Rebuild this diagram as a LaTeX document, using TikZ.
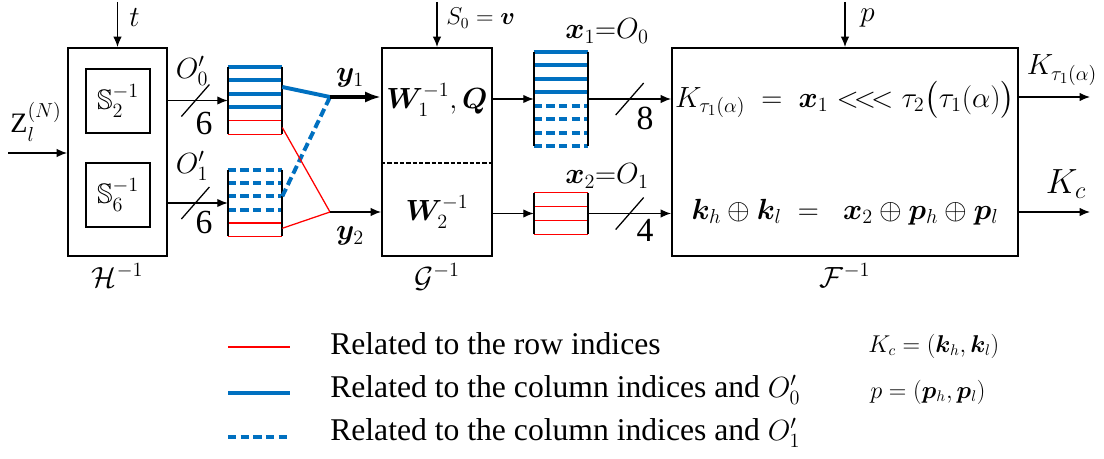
\documentclass[tikz,border=0pt]{standalone}
\usepackage{amsmath,amssymb}
\usepackage{bm}
\usepackage{fontspec}
\setmainfont{Liberation Serif}
\usetikzlibrary{arrows.meta,positioning,fit,calc}
\definecolor{rowred}{RGB}{255,0,0}
\definecolor{colblue}{RGB}{0,112,192}
\tikzset{
  blockbox/.style={draw, line width=1.3pt, inner sep=0pt},
  regbox/.style={inner sep=0pt},
  regside/.style={line width=1.3pt},
  arr/.style={-{Latex[length=2.6mm,width=2.1mm]}, line width=0.9pt},
  arrbold/.style={-{Latex[length=4mm,width=2.8mm]}, line width=2.6pt},
  rowline/.style={draw=rowred, line width=0.9pt},
  colline/.style={draw=colblue, line width=2.8pt},
  coldash/.style={colline, dash pattern=on 6pt off 3pt},
  divider/.style={line width=0.9pt, dash pattern=on 3pt off 1.5pt},
  slashmark/.style={line width=0.9pt},
  lbl/.style={font=\fontsize{20}{24}\selectfont, inner sep=0pt},
  biglbl/.style={font=\fontsize{24}{28}\selectfont, inner sep=0pt},
  eqlbl/.style={font=\fontsize{22}{26}\selectfont, inner sep=0pt},
  smalllbl/.style={font=\fontsize{16}{19}\selectfont, inner sep=0pt},
  legtxt/.style={font=\fontsize{22.5}{26}\selectfont, anchor=base west, inner sep=0pt},
}

\begin{document}
\begin{tikzpicture}[x=0.025cm, y=-0.025cm]
  \useasboundingbox (0,0) rectangle (1104,459);

  % ---- blocks ----
  \node[blockbox, fit={(68,48) (167,256)}] (H) {};
  \node[blockbox, fit={(86,69) (150,133)}] (S2) {};
  \node[blockbox, fit={(86,163) (150,227)}] (S6) {};
  \node[lbl] (S2lbl) at (S2.center) {$\mathbb{S}_2^{-1}$};
  \node[lbl] (S6lbl) at (S6.center) {$\mathbb{S}_6^{-1}$};
  \node[blockbox, fit={(382,48) (492,256)}] (G) {};
  \node[blockbox, fit={(672,48) (1018,256)}] (F) {};
  \node[lbl, below=1.6mm of H] (Hlbl) {$\mathcal{H}^{-1}$};
  \node[lbl, below=1.6mm of G] (Glbl) {$\mathcal{G}^{-1}$};
  \node[lbl, below=1.6mm of F] (Flbl) {$\mathcal{F}^{-1}$};

  \node[eqlbl] (Wq) at (437,100) {$\bm{W}_1^{-1}, \bm{Q}$};
  \node[eqlbl] (Wtwo) at (437,212) {$\bm{W}_2^{-1}$};
  \draw[divider] ($(G.north west)!0.553!(G.south west)$) -- ($(G.north east)!0.553!(G.south east)$);
  \node[eqlbl] (eqtau) at (845,100) {$K_{\tau_1(\alpha)} \;=\; \bm{x}_1 <\!<\!< \tau_2\bigl(\tau_1(\alpha)\bigr)$};
  \node[eqlbl] (eqxor) at (845,212) {$\bm{k}_h \oplus \bm{k}_l \;=\; \;\bm{x}_2 \oplus \bm{p}_h \oplus \bm{p}_l$};

  % ---- registers ----
  \node[regbox, fit={(228,67) (282,134)}] (R0) {};
  \node[regbox, fit={(228,170) (282,236)}] (R1) {};
  \node[regbox, fit={(534,52) (588,146)}] (X1) {};
  \node[regbox, fit={(534,193) (588,234)}] (X2) {};
  \foreach \k in {0,...,3}
    \draw[colline] ($(R0.north west)!\k/5!(R0.south west)$) -- ($(R0.north east)!\k/5!(R0.south east)$);
  \foreach \k in {4,5}
    \draw[rowline] ($(R0.north west)!\k/5!(R0.south west)$) -- ($(R0.north east)!\k/5!(R0.south east)$);
  \foreach \k in {0,...,3}
    \draw[coldash] ($(R1.north west)!\k/5!(R1.south west)$) -- ($(R1.north east)!\k/5!(R1.south east)$);
  \foreach \k in {4,5}
    \draw[rowline] ($(R1.north west)!\k/5!(R1.south west)$) -- ($(R1.north east)!\k/5!(R1.south east)$);
  \foreach \k in {0,...,3}
    \draw[colline] ($(X1.north west)!\k/7!(X1.south west)$) -- ($(X1.north east)!\k/7!(X1.south east)$);
  \foreach \k in {4,...,7}
    \draw[coldash] ($(X1.north west)!\k/7!(X1.south west)$) -- ($(X1.north east)!\k/7!(X1.south east)$);
  \foreach \k in {0,...,3}
    \draw[rowline] ($(X2.north west)!\k/3!(X2.south west)$) -- ($(X2.north east)!\k/3!(X2.south east)$);
  \foreach \r in {R0,R1,X1,X2}
    \draw[regside] (\r.north west) -- (\r.south west) (\r.north east) -- (\r.south east);

  % ---- inputs ----
  \coordinate (tin) at (117.5,2);
  \coordinate (vin) at (437,2);
  \coordinate (pin) at (845,2);
  \coordinate (zin) at (8,153);
  \draw[arr] (tin) -- (H.north);
  \draw[arr] (vin) -- (G.north);
  \draw[arr] (pin) -- (F.north);
  \draw[arr] (zin) -- (zin -| H.west);
  \node[lbl, anchor=west] (tlbl) at (129,18) {$t$};
  \node[smalllbl, anchor=west] (vlbl) at (446,18) {$S_0 = \bm{v}$};
  \node[lbl, anchor=west] (plbl) at (860,18) {$p$};
  \node[lbl] (zlbl) at (36,122) {$\mathrm{Z}_l^{(N)}$};

  % ---- H to registers ----
  \draw[arr] (H.east |- R0.west) -- (R0.west) coordinate[pos=0.46] (s0);
  \draw[arr] (H.east |- R1.west) -- (R1.west) coordinate[pos=0.46] (s1);
  \draw[slashmark] ($(s0)+(-14,16)$) -- ($(s0)+(14,-16)$);
  \draw[slashmark] ($(s1)+(-14,16)$) -- ($(s1)+(14,-16)$);
  \node[lbl] (o0) at (192,71) {$O'_0$};
  \node[biglbl] (six0) at (204,123) {6};
  \node[lbl] (o1) at (192,166) {$O'_1$};
  \node[biglbl] (six1) at (204,222) {6};

  % ---- mixing to y1, y2 ----
  \coordinate (j1) at (330,97);
  \coordinate (j2) at (330,212);
  \draw[colline] ($(R0.north east)!0.3!(R0.south east)$) -- (j1);
  \draw[coldash] ($(R1.north east)!0.4!(R1.south east)$) -- (j1);
  \draw[rowline] ($(R0.north east)!0.9!(R0.south east)$) -- (j2);
  \draw[rowline] ($(R1.north east)!0.88!(R1.south east)$) -- (j2);
  \draw[arrbold] (j1) -- (j1 -| G.west);
  \draw[arr] (j2) -- (j2 -| G.west);
  \node[eqlbl] (y1lbl) at (350,78) {$\bm{y}_1$};
  \node[eqlbl] (y2lbl) at (350,236) {$\bm{y}_2$};

  % ---- G to F ----
  \draw[arr] (G.east |- X1.west) -- (X1.west);
  \draw[arr] (G.east |- X2.west) -- (X2.west);
  \draw[arr] (X1.east) -- (X1.east -| F.west) coordinate[pos=0.5] (s8);
  \draw[arr] (X2.east) -- (X2.east -| F.west) coordinate[pos=0.5] (s4);
  \draw[slashmark] ($(s8)+(-14,16)$) -- ($(s8)+(14,-16)$);
  \draw[slashmark] ($(s4)+(-14,16)$) -- ($(s4)+(14,-16)$);
  \node[biglbl] (eight) at (645,118) {8};
  \node[biglbl] (four) at (645,230) {4};
  \node[lbl] (x1lbl) at (607,31) {$\bm{x}_1{=}O_0$};
  \node[lbl] (x2lbl) at (607,176) {$\bm{x}_2{=}O_1$};

  % ---- outputs ----
  \coordinate (kout1) at (1090,97);
  \coordinate (kout2) at (1090,212);
  \draw[arr] (kout1 -| F.east) -- (kout1);
  \draw[arr] (kout2 -| F.east) -- (kout2);
  \node[eqlbl] (ktau) at (1062,70) {$K_{\tau_1(\alpha)}$};
  \node[biglbl] (kc) at (1066,184) {$K_c$};

  % ---- legend ----
  \coordinate (lga) at (228,347);
  \coordinate (lgb) at (290,347);
  \coordinate (lgc) at (228,393);
  \coordinate (lgd) at (290,393);
  \coordinate (lge) at (228,437);
  \coordinate (lgf) at (290,437);
  \draw[rowline] (lga) -- (lgb);
  \draw[colline] (lgc) -- (lgd);
  \draw[coldash] (lge) -- (lgf);
  \node[legtxt] (lt1) at (330,354) {Related to the row indices};
  \node[legtxt] (lt2) at (330,397) {Related to the column indices and $O'_0$};
  \node[legtxt] (lt3) at (330,440) {Related to the column indices and $O'_1$};
  \node[smalllbl, anchor=base west] (kcdef) at (868,352) {$K_c = (\bm{k}_h, \bm{k}_l)$};
  \node[smalllbl, anchor=base west] (pdef) at (870,398) {$p = (\bm{p}_h, \bm{p}_l)$};
\end{tikzpicture}
\end{document}
